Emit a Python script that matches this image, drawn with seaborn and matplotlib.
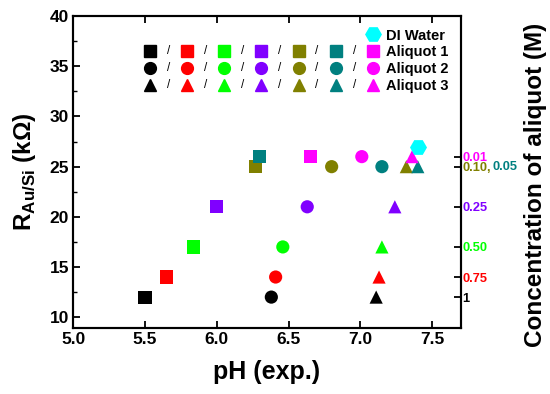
import numpy as np
import pandas as pd
import matplotlib
matplotlib.use('Agg')
import matplotlib.pyplot as plt
import seaborn as sns
from matplotlib.lines import Line2D
from matplotlib.legend_handler import HandlerBase
from matplotlib.text import Text

# concentration of aliquot (M) and colour used for each
conc = ['1', '0.75', '0.50', '0.25', '0.10', '0.05', '0.01']
colors = ['#000000', '#ff0000', '#00ff00', '#8000ff', '#808000', '#008080', '#ff00ff']

# pH (exp.) and resistance for every aliquot
ph_aliquot1 = [5.50, 5.65, 5.84, 6.00, 6.27, 6.30, 6.65]
ph_aliquot2 = [6.38, 6.41, 6.46, 6.63, 6.80, 7.15, 7.01]
ph_aliquot3 = [7.11, 7.13, 7.15, 7.24, 7.32, 7.40, 7.36]
r_aliquot1 = [12, 14, 17, 21, 25, 26, 26]
r_aliquot2 = [12, 14, 17, 21, 25, 25, 26]
r_aliquot3 = [12, 14, 17, 21, 25, 25, 26]

# DI water reference
ph_water = [7.40]
r_water = [27]

# right axis labels (resistance level -> concentration)
right_ticks = [26, 25, 21, 17, 14, 12]
right_labels = ['0.01', '0.10,', '0.25', '0.50', '0.75', '1']
right_colors = ['#ff00ff', '#808000', '#8000ff', '#00ff00', '#ff0000', '#000000']

sns.set_theme(style='ticks')
plt.rcParams['font.family'] = ['Liberation Sans', 'DejaVu Sans']
plt.rcParams['font.weight'] = 'bold'
plt.rcParams['mathtext.fontset'] = 'custom'
plt.rcParams['mathtext.rm'] = 'Liberation Sans:bold'
plt.rcParams['mathtext.bf'] = 'Liberation Sans:bold'
for key in ['text.color', 'axes.labelcolor', 'xtick.color', 'ytick.color', 'axes.edgecolor']:
    plt.rcParams[key] = 'black'

rows = []
for name, phs, rs in [('Aliquot 1', ph_aliquot1, r_aliquot1),
                      ('Aliquot 2', ph_aliquot2, r_aliquot2),
                      ('Aliquot 3', ph_aliquot3, r_aliquot3)]:
    for c, p, r in zip(conc, phs, rs):
        rows.append({'pH': p, 'R': r, 'conc': c, 'aliquot': name})
df = pd.DataFrame(rows)
water = pd.DataFrame({'pH': ph_water, 'R': r_water})

markers = {'Aliquot 1': 's', 'Aliquot 2': 'o', 'Aliquot 3': '^'}
palette = dict(zip(conc, colors))


class SlashHandler(HandlerBase):
    def create_artists(self, legend, orig_handle, xdescent, ydescent,
                       width, height, fontsize, trans):
        n = len(orig_handle)
        step = width / 6
        xs = -xdescent + width - np.arange(n)[::-1] * step
        y = -ydescent + height / 2
        artists = []
        for i, h in enumerate(orig_handle):
            m = Line2D([xs[i]], [y], marker=h.get_marker(), color=h.get_color(),
                       markersize=h.get_markersize(), linestyle='none', transform=trans)
            artists.append(m)
            if i < n - 1:
                artists.append(Text((xs[i] + xs[i + 1]) / 2, y, '/', ha='center', va='center',
                                    fontsize=fontsize * 0.8, fontweight='normal', transform=trans))
        return artists


fig = plt.figure(figsize=(5.5, 3.94), dpi=100)
ax = fig.add_axes([0.133, 0.167, 0.705, 0.792])

sns.scatterplot(data=df, x='pH', y='R', hue='conc', style='aliquot', palette=palette,
                markers=markers, s=90, linewidth=0, legend=False, ax=ax)
sns.scatterplot(data=water, x='pH', y='R', marker='H', color='#00ffff', s=150,
                linewidth=0, legend=False, ax=ax)

ax.set_xlim(5.0, 7.7)
ax.set_ylim(8.9, 40)
ax.set_xticks([5.0, 5.5, 6.0, 6.5, 7.0, 7.5])
ax.set_yticks([10, 15, 20, 25, 30, 35, 40])
ax.set_yticks(np.arange(12.5, 40, 5), minor=True)
ax.tick_params(direction='in', top=True, right=False, labelsize=12.5, width=1.3, length=5, pad=3)
ax.tick_params(which='minor', direction='in', left=True, right=False, length=3, width=1)
for lab in ax.get_xticklabels() + ax.get_yticklabels():
    lab.set_fontweight('bold')
ax.set_xlabel('pH (exp.)', fontsize=18, fontweight='bold', labelpad=9)
ax.set_ylabel(r'R$_{\mathrm{Au/Si}}$ (k$\Omega$)', fontsize=17.5, fontweight='bold', labelpad=8)
for sp in ax.spines.values():
    sp.set_linewidth(1.5)

ax2 = ax.twinx()
ax2.set_ylim(ax.get_ylim())
ax2.set_yticks(right_ticks)
ax2.set_yticklabels(right_labels)
ax2.tick_params(direction='in', labelsize=9.3, pad=1, width=1.3, length=5)
for lab, c in zip(ax2.get_yticklabels(), right_colors):
    lab.set_color(c)
    lab.set_fontweight('bold')
ax2.annotate('0.05', xy=(1, 25), xycoords=('axes fraction', 'data'), xytext=(23, 0),
             textcoords='offset points', color='#008080', fontsize=9.3, fontweight='bold',
             va='center', ha='left')
ax2.set_ylabel('Concentration of aliquot (M)', fontsize=17.5, fontweight='bold')
ax2.yaxis.set_label_coords(1.163, 0.46)
for sp in ax2.spines.values():
    sp.set_linewidth(1.5)

# legend
ms = 8.5
water_h = (Line2D([], [], marker='H', color='#00ffff', markersize=11, linestyle='none'),)
handles = [water_h]
for mk in ['s', 'o', '^']:
    handles.append(tuple(Line2D([], [], marker=mk, color=c, markersize=ms, linestyle='none')
                         for c in colors))
labels = ['DI Water', 'Aliquot 1', 'Aliquot 2', 'Aliquot 3']
leg = ax.legend(handles, labels, handler_map={tuple: SlashHandler()}, loc='upper right',
                frameon=False, handlelength=15.3, handletextpad=0.9, labelspacing=0.2,
                borderaxespad=0.45, prop={'weight': 'bold', 'size': 10.5})

fig.savefig('out.png', dpi=100)
